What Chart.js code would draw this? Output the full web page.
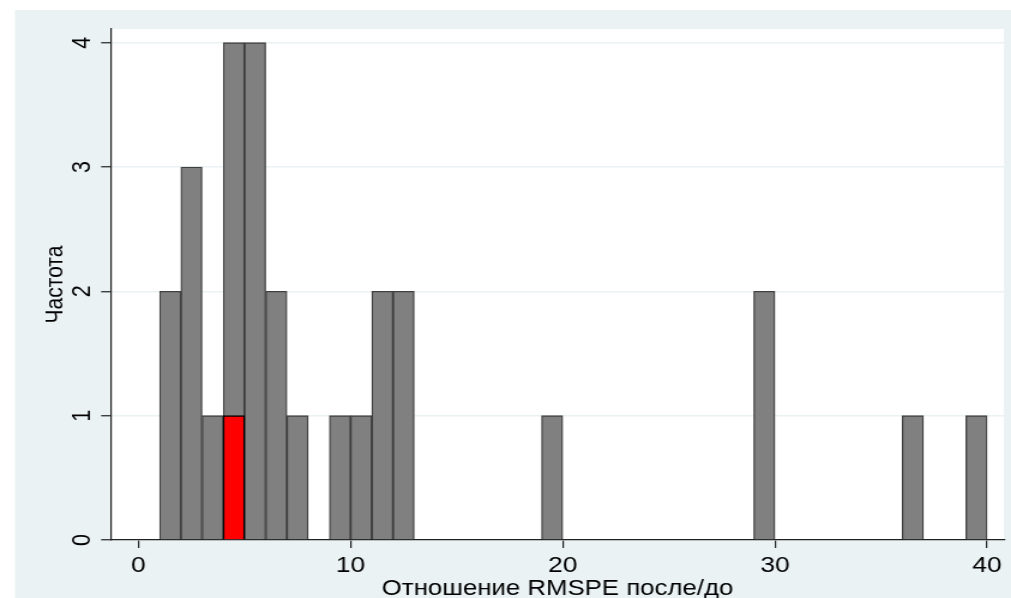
<!DOCTYPE html>
<html>
<head>
<meta charset="utf-8">
<script src="https://cdn.jsdelivr.net/npm/chart.js@4"></script>
<style>
  html, body { margin: 0; padding: 0; background: #fff; overflow: hidden; }
  /* the source graph is horizontally stretched, so draw narrower and scale out */
  #wrap { width: 843px; height: 598px; transform: scaleX(1.1993); transform-origin: 0 0; }
  #histChart { display: block; }
</style>
</head>
<body>
<div id="wrap"><canvas id="histChart" width="843" height="598"></canvas></div>
<script>
// histogram bins (left edge of each unit-wide bin) and counts
const binStarts = [1, 2, 3, 4, 5, 6, 7, 9, 10, 11, 12, 19, 29, 36, 39];
const binCounts = [2, 3, 1, 4, 4, 2, 1, 1, 1, 2, 2, 1, 2, 1, 1];

// the highlighted (treated) unit
const highlightStarts = [4];
const highlightCounts = [1];

const xTickValues = [0, 10, 20, 30, 40];
const yTickValues = [0, 1, 2, 3, 4];

const xTitle = 'Отношение RMSPE после/до';
const yTitle = 'Частота';

const bgColor = '#EAF2F3';
const axisColor = '#222222';
const fontFamily = "'Liberation Sans', Arial, sans-serif";

function toPoints(starts, counts) {
    return starts.map((s, i) => ({ x: s + 0.5, y: counts[i] }));
}

const backgroundPlugin = {
    id: 'stataBackground',
    beforeDraw(chart) {
        const ctx = chart.ctx;
        const area = chart.chartArea;
        ctx.save();
        ctx.fillStyle = '#ffffff';
        ctx.fillRect(0, 0, chart.width, chart.height);
        ctx.fillStyle = bgColor;
        ctx.fillRect(12.5, 10, chart.width - 12.5, chart.height - 10);
        ctx.fillStyle = '#ffffff';
        ctx.fillRect(area.left, area.top, area.right - area.left, area.bottom - area.top);
        ctx.restore();
    }
};

const ctx = document.getElementById('histChart').getContext('2d');
window.chart = new Chart(ctx, {
    type: 'bar',
    data: {
        datasets: [{
            label: 'highlight',
            data: toPoints(highlightStarts, highlightCounts),
            backgroundColor: '#FF0000',
            borderColor: '#000000',
            borderWidth: 1.3,
            grouped: false,
            order: 0,
            barPercentage: 1,
            categoryPercentage: 1
        }, {
            label: 'counts',
            data: toPoints(binStarts, binCounts),
            backgroundColor: '#808080',
            borderColor: '#404040',
            borderWidth: 1.3,
            grouped: false,
            order: 1,
            barPercentage: 1,
            categoryPercentage: 1
        }]
    },
    options: {
        responsive: false,
        devicePixelRatio: 1,
        animation: false,
        layout: { padding: { top: 29, right: 5.8, bottom: 0, left: 0 } },
        scales: {
            x: {
                type: 'linear',
                min: -1.29,
                max: 40.8,
                offset: false,
                afterBuildTicks: (scale) => { scale.ticks = xTickValues.map(v => ({ value: v })); },
                afterFit: (scale) => { scale.height = 58; },
                grid: {
                    offset: false,
                    drawOnChartArea: false,
                    drawTicks: true,
                    tickLength: 8,
                    color: axisColor,
                    lineWidth: 1.2
                },
                border: { display: true, color: axisColor, width: 1.2 },
                ticks: {
                    color: '#000',
                    padding: 5,
                    maxRotation: 0,
                    font: { family: fontFamily, size: 22 }
                },
                title: {
                    display: true,
                    text: xTitle,
                    color: '#000',
                    padding: { top: 0, bottom: -4 },
                    font: { family: fontFamily, size: 21.5 }
                }
            },
            y: {
                min: 0,
                max: 4.11,
                afterBuildTicks: (scale) => { scale.ticks = yTickValues.map(v => ({ value: v })); },
                afterFit: (scale) => { scale.width = 92.6; },
                grid: {
                    color: bgColor,
                    lineWidth: 1.5,
                    drawTicks: true,
                    tickLength: 8.3,
                    tickColor: axisColor,
                    tickWidth: 1.2
                },
                border: { display: true, color: axisColor, width: 1.2 },
                ticks: {
                    color: '#000',
                    minRotation: 90,
                    maxRotation: 90,
                    crossAlign: 'center',
                    padding: 9,
                    font: { family: fontFamily, size: 21.5 }
                },
                title: {
                    display: true,
                    text: yTitle,
                    color: '#000',
                    padding: { top: 33.3, bottom: 0 },
                    font: { family: fontFamily, size: 21 }
                }
            }
        },
        plugins: {
            legend: { display: false },
            tooltip: { enabled: false }
        }
    },
    plugins: [backgroundPlugin]
});
</script>
</body>
</html>
